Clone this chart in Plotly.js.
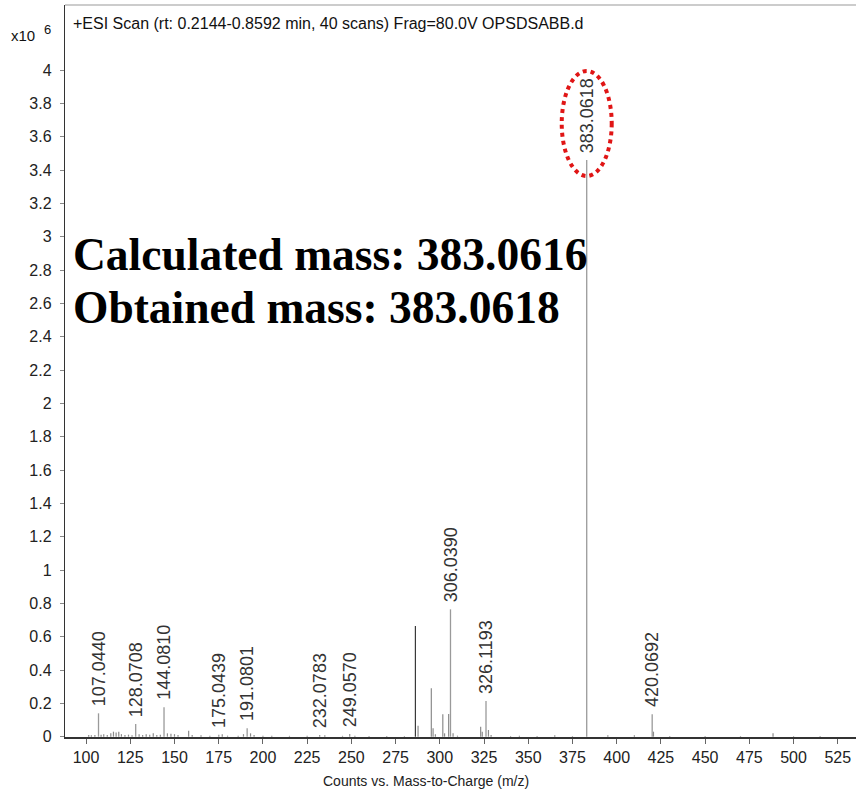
<!DOCTYPE html>
<html>
<head>
<meta charset="utf-8">
<script src="https://cdn.plot.ly/plotly-3.0.1.min.js"></script>
<style>
html,body{margin:0;padding:0;background:#fff;}
#chart{width:856px;height:792px;}
</style>
</head>
<body>
<div id="chart"></div>
<script>
// Labeled peaks (m/z, counts x10^6)
const labeledMz  = [107.0440, 128.0708, 144.0810, 175.0439, 191.0801, 232.0783, 249.0570, 306.0390, 326.1193, 383.0618, 420.0692];
const labeledInt = [0.140,    0.076,    0.176,    0.012,    0.050,    0.010,    0.016,    0.764,    0.214,    3.460,    0.134];
const labeledTxt = ["107.0440","128.0708","144.0810","175.0439","191.0801","232.0783","249.0570","306.0390","326.1193","383.0618","420.0692"];

// Unlabeled minor peaks
const minorMz  = [101.5, 103, 105, 108.5, 110, 112, 114, 115.5, 117, 118.5, 120, 122, 124, 126, 130, 132, 134, 136, 138, 140, 142, 146, 148, 150, 152, 158, 160, 165, 170, 177, 180, 186, 189, 193, 195, 200, 205, 215, 225, 235, 245, 252, 260, 270, 280,
                  287.7, 295.2, 296.2, 297.5, 301.7, 302.7, 305.0, 307.5, 310, 323.1, 324.0, 327.5, 329, 340, 345, 355, 365, 375, 395, 410, 420.8, 430, 450, 470, 488.4, 500, 515];
const minorInt = [0.010, 0.008, 0.010, 0.012, 0.015, 0.010, 0.020, 0.030, 0.025, 0.030, 0.015, 0.010, 0.012, 0.008, 0.015, 0.010, 0.015, 0.012, 0.020, 0.010, 0.012, 0.020, 0.018, 0.015, 0.010, 0.035, 0.010, 0.008, 0.006, 0.015, 0.006, 0.006, 0.015, 0.020, 0.010, 0.006, 0.005, 0.005, 0.006, 0.008, 0.005, 0.006, 0.004, 0.004, 0.004,
                  0.066, 0.290, 0.050, 0.015, 0.134, 0.020, 0.136, 0.020, 0.006, 0.060, 0.030, 0.040, 0.010, 0.004, 0.006, 0.004, 0.008, 0.004, 0.008, 0.008, 0.030, 0.004, 0.004, 0.004, 0.020, 0.004, 0.004];

// Dark unlabeled peak
const darkMz  = [286.2];
const darkInt = [0.664];

const xTicks = [100,125,150,175,200,225,250,275,300,325,350,375,400,425,450,475,500,525];
const yTicks = [0,0.2,0.4,0.6,0.8,1,1.2,1.4,1.6,1.8,2,2.2,2.4,2.6,2.8,3,3.2,3.4,3.6,3.8,4];

function sticks(mz, it){
  const x=[], y=[];
  for(let i=0;i<mz.length;i++){ x.push(mz[i],mz[i],null); y.push(0,it[i],null); }
  return {x,y};
}
const sMinor = sticks(minorMz, minorInt);
const sLab = sticks(labeledMz, labeledInt);
const sDark = sticks(darkMz, darkInt);

const traces = [
  {type:'scatter', mode:'lines', x:sMinor.x, y:sMinor.y, line:{color:'#8c8c8c', width:1.2}, hoverinfo:'skip', showlegend:false},
  {type:'scatter', mode:'lines', x:sLab.x, y:sLab.y, line:{color:'#9a9a9a', width:1.3}, hoverinfo:'skip', showlegend:false},
  {type:'scatter', mode:'lines', x:sDark.x, y:sDark.y, line:{color:'#3a3a3a', width:1.2}, hoverinfo:'skip', showlegend:false}
];

const FONT = 'Liberation Sans, Arial, sans-serif';

const annotations = labeledMz.map((m,i)=>({
  x:m, y:labeledInt[i], xref:'x', yref:'y', text:labeledTxt[i], textangle:-90,
  showarrow:false, xanchor:'center', yanchor:'bottom', yshift:5,
  font:{family:FONT, size:18, color:'#333'}
}));

annotations.push(
  {xref:'paper', yref:'paper', x:0.008, y:0.975, xanchor:'left', yanchor:'middle', showarrow:false,
   text:'+ESI Scan (rt: 0.2144-0.8592 min, 40 scans) Frag=80.0V OPSDSABB.d',
   font:{family:FONT, size:16, color:'#111'}},
  {xref:'paper', yref:'paper', x:-0.071, y:0.959, xanchor:'left', yanchor:'middle', showarrow:false,
   text:'x10', font:{family:FONT, size:15, color:'#111'}},
  {xref:'paper', yref:'paper', x:-0.0225, y:0.966, xanchor:'center', yanchor:'middle', showarrow:false,
   text:'6', font:{family:FONT, size:13, color:'#111'}},
  {xref:'paper', yref:'paper', x:0.008, y:0.6585, xanchor:'left', yanchor:'middle', showarrow:false,
   text:'<b>Calculated mass: 383.0616</b>', font:{family:'Liberation Serif, Times New Roman, serif', size:45.5, color:'#000'}},
  {xref:'paper', yref:'paper', x:0.008, y:0.5874, xanchor:'left', yanchor:'middle', showarrow:false,
   text:'<b>Obtained mass: 383.0618</b>', font:{family:'Liberation Serif, Times New Roman, serif', size:45.5, color:'#000'}},
  {xref:'paper', yref:'paper', x:0.456, y:-0.06, xanchor:'center', yanchor:'middle', showarrow:false,
   text:'Counts vs. Mass-to-Charge (m/z)', font:{family:FONT, size:14, color:'#222'}}
);

const layout = {
  width:856, height:792,
  margin:{l:65, r:0, t:5, b:55},
  paper_bgcolor:'#fff', plot_bgcolor:'#fff',
  showlegend:false,
  xaxis:{range:[88.1,535.3], tickvals:xTicks, ticktext:xTicks.map(String), showgrid:false, zeroline:false,
         showline:true, linecolor:'#333', linewidth:1.5, ticks:'outside', ticklen:5, tickcolor:'#666',
         tickfont:{family:FONT, size:16, color:'#222'}},
  yaxis:{range:[-0.002,4.39], tickvals:yTicks, ticktext:yTicks.map(String), showgrid:false, zeroline:false,
         showline:true, linecolor:'#333', linewidth:1.2, ticks:'outside', ticklen:4, tickcolor:'#888',
         ticklabelstandoff:5,
         tickfont:{family:FONT, size:16, color:'#222'}},
  annotations:annotations,
  shapes:[
    {type:'line', xref:'paper', yref:'paper', x0:0, x1:1, y0:1, y1:1, line:{color:'#999', width:1.2}},
    {type:'circle', xref:'x', yref:'y', xsizemode:'pixel', ysizemode:'pixel',
     xanchor:labeledMz[9], yanchor:labeledInt[9], x0:-25, x1:25, y0:-16, y1:89,
     line:{color:'#e01515', width:4, dash:'4px,4px'}}
  ]
};

Plotly.newPlot('chart', traces, layout, {displayModeBar:false, staticPlot:true});
</script>
</body>
</html>
